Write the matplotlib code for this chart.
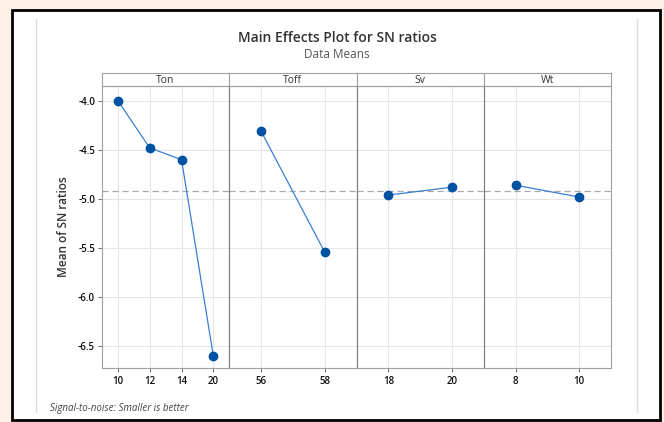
import matplotlib
matplotlib.use("Agg")
from matplotlib import pyplot as plt
from matplotlib.patches import Rectangle
from matplotlib.lines import Line2D

plt.rcParams['font.family'] = ['Open Sans', 'DejaVu Sans']

# factor levels and mean SN ratios
factors = ["Ton", "Toff", "Sv", "Wt"]
levels = [["10", "12", "14", "20"], ["56", "58"], ["18", "20"], ["8", "10"]]
sn_means = [[-4.00, -4.48, -4.60, -6.60],
            [-4.31, -5.54],
            [-4.96, -4.88],
            [-4.86, -4.98]]
overall_mean = -4.92
yticks = [-4.0, -4.5, -5.0, -5.5, -6.0, -6.5]

W, H = 664, 422
fig = plt.figure(figsize=(W / 100, H / 100), dpi=100)
fig.patch.set_facecolor("#fdf0e6")

def px(x0, y0, x1, y1):
    # pixel box (top-left origin) -> figure fraction rect
    return [x0 / W, 1 - y1 / H, (x1 - x0) / W, (y1 - y0) / H]

# white page with black frame
fig.patches.append(Rectangle((12 / W, 1 - 420 / H), 648 / W, 410 / H,
                             transform=fig.transFigure, facecolor="white",
                             edgecolor="black", linewidth=2, zorder=-5))
for xx in (36, 637):
    fig.lines.append(Line2D([xx / W, xx / W], [1 - 412 / H, 1 - 19 / H],
                            transform=fig.transFigure, color="#dddddd", lw=1,
                            zorder=-4))

fig.text(337 / W, 1 - 38 / H, "Main Effects Plot for SN ratios", ha="center",
         va="center", fontsize=10, color="#333333", fontweight="semibold")
fig.text(337 / W, 1 - 55 / H, "Data Means", ha="center", va="center",
         fontsize=8.5, color="#555555")
fig.text(50 / W, 1 - 408 / H, "Signal-to-noise: Smaller is better",
         ha="left", va="center", fontsize=7, style="italic", color="#444444")

left, right, top, bottom, strip_top = 102, 611, 86, 368, 73
pw = (right - left) / len(factors)
ylo, yhi = -6.72, -3.85

for i, name in enumerate(factors):
    x0 = left + i * pw
    ax = fig.add_axes(px(x0, top, x0 + pw, bottom))
    ax.patch.set_alpha(0)
    n = len(levels[i])
    xs = list(range(n))
    ax.set_xlim(-0.5, n - 0.5)
    ax.set_ylim(ylo, yhi)
    ax.set_xticks(xs)
    ax.set_xticklabels(levels[i], fontsize=7, color="#111111", fontweight="semibold")
    ax.set_yticks(yticks)
    ax.grid(True, color="#e6e6e6", lw=0.8)
    ax.set_axisbelow(True)
    ax.axhline(overall_mean, color="#a8a8a8", lw=0.9, ls=(0, (5, 3)), zorder=1)
    ax.plot(xs, sn_means[i], color="#3a7fd5", lw=0.9, zorder=2)
    ax.plot(xs, sn_means[i], "o", color="#0052a3", ms=6, zorder=3)
    for side in ("left", "right", "top", "bottom"):
        ax.spines[side].set_color("#a0a0a0")
    if i > 0:
        ax.spines["left"].set_color("#7a7a7a")
    ax.tick_params(axis="x", length=3, color="#777777", pad=3)
    if i == 0:
        ax.set_yticklabels([f"{t:.1f}" for t in yticks], fontsize=7,
                           color="#111111", fontweight="semibold")
        ax.tick_params(axis="y", length=3, color="#777777", pad=2)
        ax.set_ylabel("Mean of SN ratios", fontsize=8.5, color="#333333",
                      labelpad=6, fontweight="semibold")
    else:
        ax.tick_params(axis="y", length=0, labelleft=False)

    sax = fig.add_axes(px(x0, strip_top, x0 + pw, top))
    sax.patch.set_alpha(0)
    sax.set_xticks([])
    sax.set_yticks([])
    for side in sax.spines.values():
        side.set_color("#a0a0a0")
    sax.text(0.5, 0.45, name, ha="center", va="center", fontsize=7.5,
             color="#333333", transform=sax.transAxes)

fig.savefig("out.png", dpi=100)
